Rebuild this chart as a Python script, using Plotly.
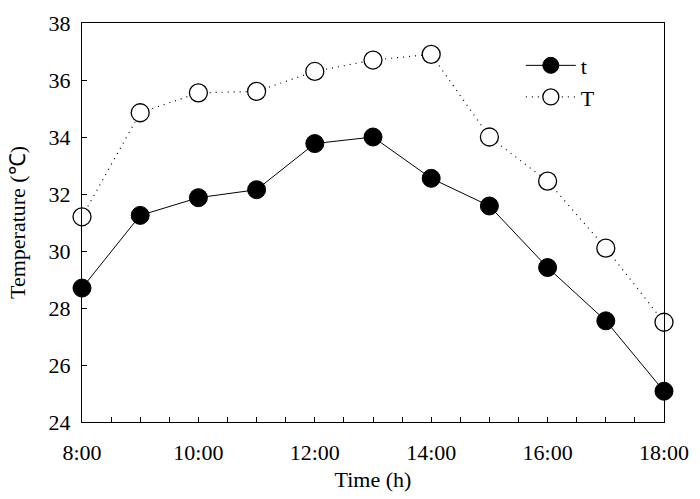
import plotly.graph_objects as go

hours = [8, 9, 10, 11, 12, 13, 14, 15, 16, 17, 18]
t_vals = [28.7, 31.25, 31.87, 32.15, 33.77, 34.0, 32.55, 31.58, 29.42, 27.55, 25.08]
T_vals = [31.2, 34.85, 35.55, 35.6, 36.3, 36.7, 36.9, 34.0, 32.45, 30.1, 27.5]
x_tick_vals = [8, 10, 12, 14, 16, 18]
x_tick_text = ["8:00", "10:00", "12:00", "14:00", "16:00", "18:00"]
y_tick_vals = [24, 26, 28, 30, 32, 34, 36, 38]

font_family = "Liberation Serif, Times New Roman, serif"

fig = go.Figure()
fig.add_trace(go.Scatter(
    x=hours, y=t_vals, name="t", mode="lines+markers",
    line=dict(color="black", width=1),
    marker=dict(symbol="circle", size=18, color="black", line=dict(color="black", width=1)),
    cliponaxis=False,
))
fig.add_trace(go.Scatter(
    x=hours, y=T_vals, name="T", mode="lines+markers",
    line=dict(color="black", width=1.2, dash="1px,5px"),
    marker=dict(symbol="circle", size=18, color="white", line=dict(color="black", width=1.3)),
    cliponaxis=False,
))

axis_common = dict(
    showline=True, linecolor="black", linewidth=1.3, mirror=True,
    ticks="inside", ticklen=5, tickcolor="black", showgrid=False, zeroline=False,
    tickfont=dict(family=font_family, size=22, color="black"),
    ticklabeloverflow="allow",
)

fig.update_layout(
    width=700, height=499,
    margin=dict(l=82, r=36, t=11, b=73),
    paper_bgcolor="white", plot_bgcolor="white",
    font=dict(family=font_family, size=22, color="black"),
    showlegend=True,
    legend=dict(x=0.754, y=0.946, xanchor="left", yanchor="top",
                bgcolor="rgba(0,0,0,0)", font=dict(family=font_family, size=22),
                tracegroupgap=2, itemwidth=50),
    xaxis=dict(range=[8, 18], tickvals=x_tick_vals, ticktext=x_tick_text,
               minor=dict(dtick=0.5, ticks="inside", ticklen=5, tickcolor="black"),
               ticklabelstandoff=10,
               title=dict(text="Time (h)", standoff=8, font=dict(family=font_family, size=22)),
               **axis_common),
    yaxis=dict(range=[24, 38], tickvals=y_tick_vals,
               ticklabelstandoff=6,
               title=dict(text="Temperature (℃)", standoff=16, font=dict(family=font_family, size=22)),
               **axis_common),
)

fig.write_html("out.html", config={"displayModeBar": False},
               post_script="document.body.style.margin='0';")
